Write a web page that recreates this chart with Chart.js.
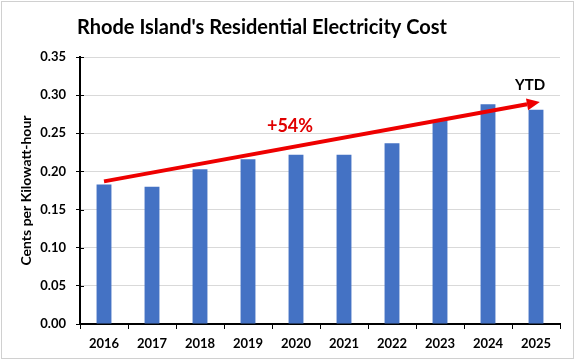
<!DOCTYPE html>
<html>
<head>
<meta charset="utf-8">
<script src="https://cdn.jsdelivr.net/npm/chart.js@4/dist/chart.umd.min.js"></script>
<style>
  html, body { margin: 0; padding: 0; background: #fff; }
  #wrap { width: 575px; height: 360px; position: relative; }
</style>
</head>
<body>
<div id="wrap"><canvas id="chart"></canvas></div>
<script>
// Daten
const years = ["2016", "2017", "2018", "2019", "2020", "2021", "2022", "2023", "2024", "2025"];
const costs = [0.183, 0.180, 0.203, 0.216, 0.222, 0.222, 0.237, 0.267, 0.288, 0.281];
const yTicks = [0, 0.05, 0.10, 0.15, 0.20, 0.25, 0.30, 0.35];

// Pfeil (Trend) in Datenkoordinaten: [Kategorie-Index, Wert]
const trendFrom = [0, 0.187];
const trendTo = [9.08, 0.291];
const trendText = "+54%";
const trendTextAt = [3.875, 0.259];
const ytdText = "YTD";
const ytdTextAt = [8.875, 0.3125];

const chartTitle = "Rhode Island's Residential Electricity Cost";
const FONT = "Lato, 'Open Sans', sans-serif";

// Rahmen, Titel, Pfeil und Beschriftungen zeichnen
const annotations = {
    id: "annotations",
    beforeDraw(chart) {
        const ctx = chart.ctx;
        ctx.save();
        ctx.fillStyle = "#ffffff";
        ctx.fillRect(0, 0, chart.width, chart.height);
        ctx.strokeStyle = "#d0d0d0";
        ctx.lineWidth = 1;
        ctx.strokeRect(1.5, 1.5, chart.width - 3, chart.height - 3);

        // Titel (leicht links von der Mitte wie im Original)
        ctx.font = "bold 20px " + FONT;
        ctx.fillStyle = "#000";
        ctx.textAlign = "center";
        ctx.textBaseline = "alphabetic";
        ctx.fillText(chartTitle, 262, 34);
        ctx.restore();
    },
    afterDatasetsDraw(chart) {
        const ctx = chart.ctx;
        const x = chart.scales.x, y = chart.scales.y;
        const x1 = x.getPixelForValue(trendFrom[0]), y1 = y.getPixelForValue(trendFrom[1]);
        const x2 = x.getPixelForValue(trendTo[0]), y2 = y.getPixelForValue(trendTo[1]);
        const ang = Math.atan2(y2 - y1, x2 - x1);
        const headLen = 13, headW = 6;
        const bx = x2 - headLen * Math.cos(ang), by = y2 - headLen * Math.sin(ang);

        ctx.save();
        ctx.strokeStyle = "#ee0000";
        ctx.fillStyle = "#ee0000";
        ctx.lineWidth = 4;
        ctx.beginPath();
        ctx.moveTo(x1, y1);
        ctx.lineTo(bx, by);
        ctx.stroke();
        ctx.beginPath();
        ctx.moveTo(x2, y2);
        ctx.lineTo(bx + headW * Math.sin(ang), by - headW * Math.cos(ang));
        ctx.lineTo(bx - headW * Math.sin(ang), by + headW * Math.cos(ang));
        ctx.closePath();
        ctx.fill();

        ctx.textAlign = "center";
        ctx.textBaseline = "middle";
        ctx.font = "bold 18px " + FONT;
        ctx.fillStyle = "#e00000";
        ctx.fillText(trendText, x.getPixelForValue(trendTextAt[0]), y.getPixelForValue(trendTextAt[1]));
        ctx.font = "bold 15px " + FONT;
        ctx.fillStyle = "#000000";
        ctx.fillText(ytdText, x.getPixelForValue(ytdTextAt[0]), y.getPixelForValue(ytdTextAt[1]));

        // kurze Striche an der Y-Achse nach innen
        ctx.strokeStyle = "#000";
        ctx.lineWidth = 1;
        yTicks.forEach(v => {
            const py = Math.round(y.getPixelForValue(v)) + 0.5;
            ctx.beginPath();
            ctx.moveTo(chart.chartArea.left, py);
            ctx.lineTo(chart.chartArea.left + 4, py);
            ctx.stroke();
        });
        ctx.restore();
    }
};

new Chart(document.getElementById("chart"), {
    type: "bar",
    data: {
        labels: years,
        datasets: [{
            data: costs,
            backgroundColor: "#4472c4",
            borderWidth: 0,
            barPercentage: 0.31,
            categoryPercentage: 1
        }]
    },
    plugins: [annotations],
    options: {
        responsive: true,
        maintainAspectRatio: false,
        animation: false,
        layout: { padding: { left: 0, right: 15, top: 57, bottom: 0 } },
        plugins: {
            legend: { display: false },
            tooltip: { enabled: false },
            title: { display: false }
        },
        scales: {
            x: {
                offset: true,
                grid: { display: true, drawOnChartArea: false, offset: true, tickLength: 5, tickColor: "#000", lineWidth: 1 },
                border: { display: true, color: "#000", width: 2 },
                ticks: { color: "#000", font: { family: FONT, size: 13, weight: "bold" }, padding: 7, maxRotation: 0 },
                afterFit(scale) { scale.height = 36; }
            },
            y: {
                min: 0,
                max: 0.35,
                afterBuildTicks(scale) { scale.ticks = yTicks.map(v => ({ value: v })); },
                grid: { color: "#d9d9d9", lineWidth: 1, tickLength: 4, tickColor: "#000" },
                border: { display: true, color: "#000", width: 2 },
                ticks: {
                    color: "#000",
                    font: { family: FONT, size: 13, weight: "bold" },
                    padding: 10,
                    callback: v => v.toFixed(2)
                },
                title: {
                    display: true,
                    text: "Cents per Kilowatt-hour",
                    color: "#000",
                    font: { family: FONT, size: 14, weight: "bold" },
                    padding: { top: 18, bottom: 4 }
                },
                afterFit(scale) { scale.width = 80; }
            }
        }
    }
});
</script>
</body>
</html>
